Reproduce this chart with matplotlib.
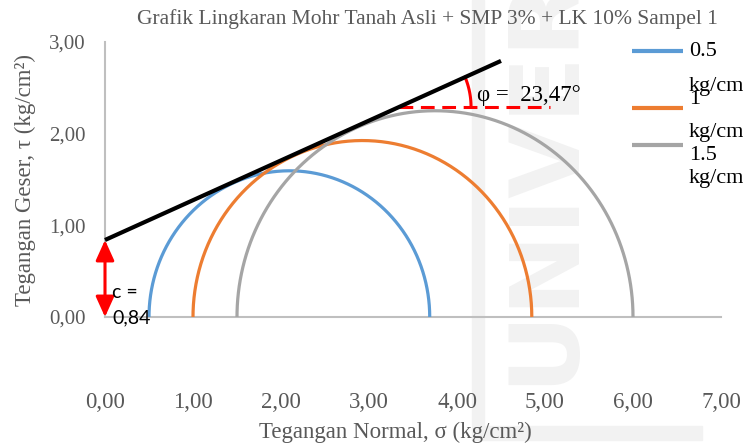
import numpy as np
import matplotlib.pyplot as plt
from matplotlib.lines import Line2D
from matplotlib.patches import Rectangle

# Mohr circle inputs (kg/cm2)
pressures = ["0.5", "1", "1.5"]
sigma3 = [0.50, 1.00, 1.50]
sigma1 = [3.69, 4.85, 6.00]
circle_colors = ["#5B9BD5", "#ED7D31", "#A5A5A5"]

# failure envelope
cohesion = 0.84
phi_deg = 23.47
envelope_x = [0.0, 4.5]
phi_ref_y = 2.29          # level of the horizontal reference for the angle
phi_ref_x_end = 5.06
phi_arc_r = 0.82

x_ticks = [0, 1, 2, 3, 4, 5, 6, 7]
y_ticks = [0, 1, 2, 3]

serif = ["Liberation Serif", "DejaVu Serif"]
grey_txt = "#595959"

W, H = 743, 446
fig = plt.figure(figsize=(W / 100, H / 100), dpi=100)

# faint background watermark
wm = "#F2F2F2"
fig.text(545 / W, 1 - 385 / H, "UNIVER", rotation=90, ha="center", va="bottom",
         fontsize=70, fontweight="bold", color=wm, family="DejaVu Sans", zorder=-5)
fig.add_artist(Rectangle((472 / W, 1 - 425 / H), 12 / W, 425 / H,
                         transform=fig.transFigure, color=wm, zorder=-5))
fig.add_artist(Rectangle((472 / W, 1 - 440 / H), 230 / W, 14 / H,
                         transform=fig.transFigure, color=wm, zorder=-5))

ax = fig.add_axes([105 / W, 1 - 317 / H, (721 - 105) / W, (317 - 42) / H])
ax.set_zorder(2)
ax.patch.set_alpha(0)
ax.set_xlim(0, 7)
ax.set_ylim(0, 3)

# Mohr circles (upper halves)
theta = np.linspace(0, np.pi, 400)
for s3, s1, col in zip(sigma3, sigma1, circle_colors):
    c = (s1 + s3) / 2
    r = (s1 - s3) / 2
    ax.plot(c + r * np.cos(theta), r * np.sin(theta), color=col, lw=2.3,
            solid_capstyle="butt", clip_on=False, zorder=3)

# envelope  tau = c + sigma * tan(phi)
tanphi = np.tan(np.radians(phi_deg))
ex = np.array(envelope_x)
ax.plot(ex, cohesion + ex * tanphi, color="black", lw=3, solid_capstyle="butt",
        clip_on=False, zorder=5)

# angle annotation
x0 = (phi_ref_y - cohesion) / tanphi
ax.plot([x0, phi_ref_x_end], [phi_ref_y, phi_ref_y], color="red", lw=2.2,
        dashes=(4.5, 2.5), zorder=4)
a = np.linspace(0, np.radians(phi_deg), 60)
ax.plot(x0 + phi_arc_r * np.cos(a), phi_ref_y + phi_arc_r * np.sin(a),
        color="red", lw=2.2, zorder=4)
ax.text(4.23, 2.42, "φ =  %s°" % ("%.2f" % phi_deg).replace(".", ","), fontsize=16.5,
        family=serif, color="black", ha="left", va="center", zorder=6)

# cohesion arrow
ax.annotate("", xy=(0, 0), xytext=(0, cohesion),
            arrowprops=dict(arrowstyle="<|-|>,head_length=0.62,head_width=0.28",
                            mutation_scale=20, color="red", lw=2.2,
                            shrinkA=0, shrinkB=0),
            annotation_clip=False, zorder=6)
ax.text(0.08, 0.27, "c =", fontsize=14, family=["Lato", "DejaVu Sans"],
        color="black", ha="left", va="center", zorder=6)
ax.text(0.08, -0.01, ("%.2f" % cohesion).replace(".", ","), fontsize=14,
        family=["Lato", "DejaVu Sans"], color="black", ha="left", va="center", zorder=6)

# axes styling
for s in ["top", "right"]:
    ax.spines[s].set_visible(False)
for s in ["left", "bottom"]:
    ax.spines[s].set_color("#BFBFBF")
    ax.spines[s].set_linewidth(1.5)
ax.set_xticks(x_ticks)
ax.set_yticks(y_ticks)
ax.set_xticklabels([("%.2f" % v).replace(".", ",") for v in x_ticks],
                   family=serif, fontsize=16.5, color=grey_txt)
ax.set_yticklabels([("%.2f" % v).replace(".", ",") for v in y_ticks],
                   family=serif, fontsize=15, color=grey_txt)
ax.tick_params(axis="x", length=0, pad=54)
ax.tick_params(axis="y", length=0, pad=14)

# titles
fig.text(427 / W, 1 - 19 / H,
         "Grafik Lingkaran Mohr Tanah Asli + SMP 3% + LK 10% Sampel 1",
         ha="center", va="center", fontsize=15.5, family=serif, color=grey_txt)
fig.text(395 / W, 1 - 432 / H, "Tegangan Normal, σ (kg/cm²)",
         ha="center", va="center", fontsize=16.5, family=serif, color=grey_txt)
fig.text(25 / W, 1 - 180 / H, "Tegangan Geser, τ (kg/cm²)", rotation=90,
         ha="center", va="center", fontsize=16.5, family=serif, color=grey_txt)

# legend entries (labels wrap onto a second line)
handle_y = [51, 108, 145]
value_y = [51, 100, 155]
unit_y = [87, 133, 178]
for lbl, col, hy, vy, uy in zip(pressures, circle_colors, handle_y, value_y, unit_y):
    fig.add_artist(Line2D([632 / W, 683 / W], [1 - hy / H, 1 - hy / H],
                          transform=fig.transFigure, color=col, lw=3,
                          solid_capstyle="butt"))
    fig.text(689 / W, 1 - vy / H, lbl, ha="left", va="center", fontsize=16,
             family=serif, color="black")
    fig.text(689 / W, 1 - uy / H, "kg/cm²", ha="left", va="center", fontsize=16,
             family=serif, color="black")

fig.savefig("out.png", dpi=100, facecolor="white")
